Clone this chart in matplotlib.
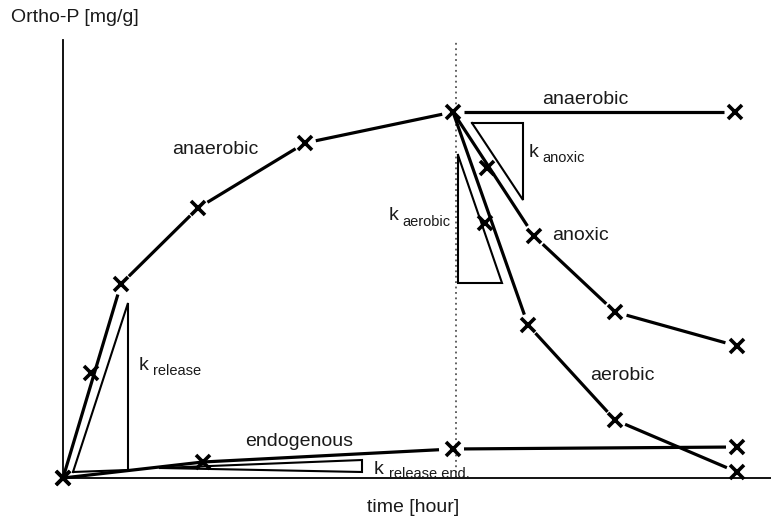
import matplotlib
matplotlib.use("Agg")
import matplotlib.pyplot as plt
import numpy as np

plt.rcParams['font.family'] = ['Liberation Sans', 'DejaVu Sans']

# ---- data (arbitrary schematic units) ----
t_switch = 3.93
anaerobic_t = [0.0, 0.58, 1.35, 2.42, 3.90]
anaerobic_p = [0.0, 1.94, 2.70, 3.35, 3.66]
anaerobic_mid_t = [0.28]
anaerobic_mid_p = [1.05]

anaerobic2_t = [3.90, 6.72]
anaerobic2_p = [3.66, 3.66]

anoxic_t = [3.90, 4.71, 5.52, 6.74]
anoxic_p = [3.66, 2.42, 1.66, 1.32]
anoxic_mid_t = [4.24]
anoxic_mid_p = [3.10]

aerobic_t = [3.90, 4.65, 5.52, 6.74]
aerobic_p = [3.66, 1.53, 0.58, 0.06]
aerobic_mid_t = [4.22]
aerobic_mid_p = [2.55]

endo_t = [0.0, 1.40, 3.90]
endo_p = [0.0, 0.16, 0.29]
endo2_t = [3.90, 6.74]
endo2_p = [0.29, 0.31]

# rate triangles
tri_release_t = [0.10, 0.65, 0.65, 0.10]
tri_release_p = [0.06, 1.75, 0.08, 0.06]
tri_end_t = [0.97, 2.99, 2.99, 0.97]
tri_end_p = [0.10, 0.18, 0.06, 0.10]
tri_anoxic_t = [4.09, 4.60, 4.60, 4.09]
tri_anoxic_p = [3.55, 3.55, 2.78, 3.55]
tri_aerobic_t = [3.95, 3.95, 4.39, 3.95]
tri_aerobic_p = [3.23, 1.95, 1.95, 3.23]

W, H = 771, 523
fig = plt.figure(figsize=(W / 100, H / 100), dpi=100)
ax = fig.add_axes([63 / W, (H - 478) / H, (W - 63) / W, (478 - 40) / H])
ax.set_xlim(0, 7.08)
ax.set_ylim(0, 4.38)
for s in ['top', 'right']:
    ax.spines[s].set_visible(False)
for s in ['left', 'bottom']:
    ax.spines[s].set_linewidth(1.3)
ax.set_xticks([])
ax.set_yticks([])
ax.patch.set_alpha(0)

LW = 2.3
MS = 10
MEW = 2.6


def gapped(ts, ps, first_gap=0.0, gap=11.0, last_gap=None):
    pts = ax.transData.transform(np.column_stack([ts, ps]))
    inv = ax.transData.inverted()
    n = len(pts)
    for i in range(n - 1):
        a, b = pts[i], pts[i + 1]
        d = b - a
        L = np.hypot(*d)
        u = d / L
        g0 = first_gap if i == 0 else gap
        g1 = gap if (last_gap is None or i < n - 2) else last_gap
        a2 = a + u * g0
        b2 = b - u * g1
        seg = inv.transform(np.vstack([a2, b2]))
        ax.plot(seg[:, 0], seg[:, 1], color='black', lw=LW,
                solid_capstyle='butt', clip_on=False)


def markers(ts, ps):
    ax.plot(ts, ps, linestyle='none', marker='x', color='black',
            markersize=MS, markeredgewidth=MEW, clip_on=False, zorder=5)


# dotted switch line
ax.axvline(t_switch, color='#555555', lw=1.3, linestyle=(0, (1, 2)))

# anaerobic phase
gapped(anaerobic_t, anaerobic_p, first_gap=0, gap=11)
markers(anaerobic_t, anaerobic_p)
markers(anaerobic_mid_t, anaerobic_mid_p)

gapped(anaerobic2_t, anaerobic2_p, first_gap=11, gap=11)
markers(anaerobic2_t[1:], anaerobic2_p[1:])

gapped(anoxic_t, anoxic_p, first_gap=0, gap=12)
markers(anoxic_t[1:], anoxic_p[1:])
markers(anoxic_mid_t, anoxic_mid_p)

gapped(aerobic_t, aerobic_p, first_gap=0, gap=11)
markers(aerobic_t[1:], aerobic_p[1:])
markers(aerobic_mid_t, aerobic_mid_p)

# endogenous
ax.plot(endo_t[:2], endo_p[:2], color='black', lw=LW, clip_on=False)
gapped(endo_t[1:], endo_p[1:], first_gap=0, gap=14)
markers(endo_t, endo_p)
gapped(endo2_t, endo2_p, first_gap=11, gap=11)
markers(endo2_t[1:], endo2_p[1:])

# triangles
TLW = 1.5
for tt, pp in [(tri_release_t, tri_release_p), (tri_end_t, tri_end_p),
               (tri_anoxic_t, tri_anoxic_p), (tri_aerobic_t, tri_aerobic_p)]:
    ax.plot(tt, pp, color='black', lw=TLW, solid_joinstyle='miter', clip_on=False)

# text
FS = 14
SFS = 10.5
TC = '#1a1a1a'


def px(x, y):
    return x / W, 1 - y / H


fig.text(*px(11, 18), 'Ortho-P [mg/g]', fontsize=FS, va='center', ha='left', color=TC)
fig.text(*px(413, 508), 'time [hour]', fontsize=FS, va='center', ha='center', color=TC)
fig.text(*px(215, 150), 'anaerobic', fontsize=FS, va='center', ha='center', color=TC)
fig.text(*px(585, 100), 'anaerobic', fontsize=FS, va='center', ha='center', color=TC)
fig.text(*px(552, 236), 'anoxic', fontsize=FS, va='center', ha='left', color=TC)
fig.text(*px(590, 375), 'aerobic', fontsize=FS, va='center', ha='left', color=TC)
fig.text(*px(245, 442), 'endogenous', fontsize=FS, va='center', ha='left', color=TC)


def ktext(xk, yk, xs, ys, sub):
    fig.text(*px(xk, yk), 'k', fontsize=FS, va='center', ha='left', color=TC)
    fig.text(*px(xs, ys), sub, fontsize=SFS, va='center', ha='left', color=TC)


ktext(139, 366, 153, 371, 'release')
ktext(529, 152, 542, 158, 'anoxic')
ktext(389, 215, 402, 222, 'aerobic')
ktext(374, 470, 389, 474, 'release end.')

fig.savefig('out.png', dpi=100)
